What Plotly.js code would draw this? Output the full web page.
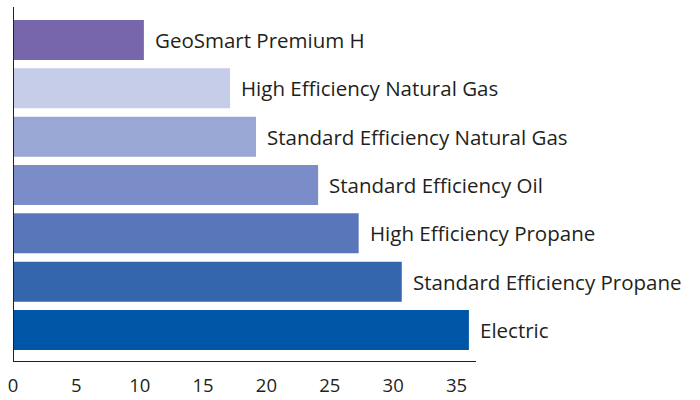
<!DOCTYPE html>
<html>
<head>
<meta charset="utf-8">
<script src="https://cdn.plot.ly/plotly-3.0.1.min.js"></script>
<style>html,body{margin:0;padding:0;background:#fff;}#chart{width:700px;height:400px;}</style>
</head>
<body>
<div id="chart"></div>
<script>
// Data (bottom to top)
const categories = ["Electric", "Standard Efficiency Propane", "High Efficiency Propane", "Standard Efficiency Oil", "Standard Efficiency Natural Gas", "High Efficiency Natural Gas", "GeoSmart Premium H"];
const values = [35.9, 30.6, 27.2, 24.0, 19.1, 17.05, 10.25];
const barColors = ["#0056a6", "#3466ae", "#5a76ba", "#7a8dc8", "#98a7d3", "#c6cde8", "#7866ad"];
const tickValues = [0, 5, 10, 15, 20, 25, 30, 35];
const tickLabels = ["0", "5", "10", "15", "20", "25", "30", "35"];

const FONT = "Open Sans, Liberation Sans, sans-serif";
const TEXT_COLOR = "#231f20";

const trace = {
  type: "bar",
  orientation: "h",
  y: categories,
  x: values,
  marker: {color: barColors, line: {width: 0}},
  hoverinfo: "none"
};

const annotations = categories.map((c, i) => ({
  x: values[i], y: c, xref: "x", yref: "y",
  text: c, showarrow: false, xanchor: "left", yanchor: "middle",
  xshift: 9, font: {family: FONT, size: 20.5, color: TEXT_COLOR}
}));

const layout = {
  width: 700, height: 400,
  margin: {l: 14, r: 224, t: 7, b: 39, pad: 0},
  paper_bgcolor: "#fff", plot_bgcolor: "#fff",
  showlegend: false,
  bargap: 0.172,
  font: {family: FONT, size: 19, color: TEXT_COLOR},
  xaxis: {
    range: [0, 36.46],
    tickvals: tickValues, ticktext: tickLabels,
    showgrid: false, zeroline: false,
    showline: true, linecolor: "#231f20", linewidth: 1,
    ticks: "", ticklabelstandoff: 8, ticklabelshift: -1,
    tickfont: {family: FONT, size: 18.5, color: TEXT_COLOR},
    fixedrange: true
  },
  yaxis: {
    type: "category",
    range: [-0.641, 6.683],
    showgrid: false, zeroline: false,
    showline: true, linecolor: "#231f20", linewidth: 1,
    showticklabels: false, ticks: "",
    fixedrange: true
  },
  annotations: annotations
};

Plotly.newPlot("chart", [trace], layout, {displayModeBar: false, staticPlot: true});
</script>
</body>
</html>
